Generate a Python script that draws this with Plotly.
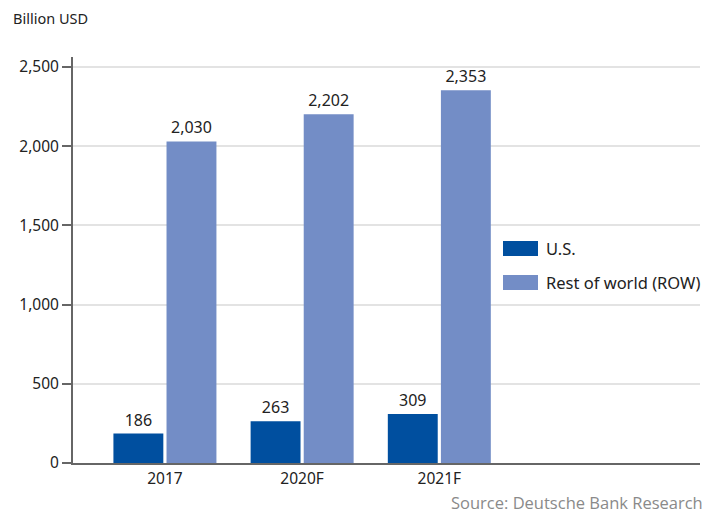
import plotly.graph_objects as go

categories = ["2017", "2020F", "2021F"]
us_values = [186, 263, 309]
row_values = [2030, 2202, 2353]
tick_vals = [0, 500, 1000, 1500, 2000, 2500]
tick_text = ["0", "500", "1,000", "1,500", "2,000", "2,500"]
series_names = ["U.S.", "Rest of world (ROW)"]

US_COLOR = "#004f9f"
ROW_COLOR = "#738dc6"
TEXT = "#222222"
FONT = "Noto Sans"

# figure geometry (page has an 8px body margin)
W, H = 709, 506
L, R, T, B = 65, 17, 49, 51
PW, PH = W - L - R, H - T - B

def px(x):
    return (x - L) / PW

def py(y):
    return (H - B - y) / PH

fig = go.Figure()
for name, vals, col in [(series_names[0], us_values, US_COLOR),
                        (series_names[1], row_values, ROW_COLOR)]:
    fig.add_trace(go.Bar(
        name=name, x=categories, y=vals, marker_color=col, marker_line_width=0,
        text=[f"{v:,}" for v in vals], textposition="outside",
        textfont=dict(size=16, color=TEXT, family=FONT), cliponaxis=False,
        showlegend=False,
    ))

fig.update_layout(
    width=W, height=H,
    margin=dict(l=L, r=R, t=T, b=B),
    paper_bgcolor="white", plot_bgcolor="white",
    barmode="group", bargap=0.226, bargroupgap=0.06,
    font=dict(family=FONT, size=15, color=TEXT),
    xaxis=dict(type="category", range=[-0.67, 3.9], showgrid=False,
               showline=True, linecolor="#666666", linewidth=2,
               ticks="", tickfont=dict(size=15.5, color=TEXT, family=FONT)),
    yaxis=dict(range=[0, 2563], tickvals=tick_vals, ticktext=tick_text,
               showgrid=True, gridcolor="#e3e3e3", gridwidth=1.5,
               showline=True, linecolor="#666666", linewidth=2,
               ticks="outside", ticklen=9, tickcolor="#666666", tickwidth=1.5,
               zeroline=False,
               tickfont=dict(size=15.5, color=TEXT, family=FONT)),
)

# custom legend
legend_rows = [(233, 248, US_COLOR), (267, 282, ROW_COLOR)]
for (y0, y1, col), name in zip(legend_rows, series_names):
    fig.add_shape(type="rect", xref="paper", yref="paper",
                  x0=px(495), x1=px(530), y0=py(y1), y1=py(y0),
                  fillcolor=col, line_width=0)
    fig.add_annotation(text=name, xref="paper", yref="paper",
                       x=px(536), y=py((y0 + y1) / 2), xanchor="left", yanchor="middle",
                       showarrow=False, font=dict(size=16.5, color=TEXT, family=FONT))

fig.add_annotation(text="Billion USD", xref="paper", yref="paper",
                   x=px(3), y=py(10), xanchor="left", yanchor="middle",
                   showarrow=False, font=dict(size=14.5, color=TEXT, family=FONT))
fig.add_annotation(text="Source: Deutsche Bank Research", xref="paper", yref="paper",
                   x=px(697), y=py(494), xanchor="right", yanchor="middle",
                   showarrow=False, font=dict(size=16.5, color="#8a8a8a", family="Open Sans"))

fig.write_html("out.html")
